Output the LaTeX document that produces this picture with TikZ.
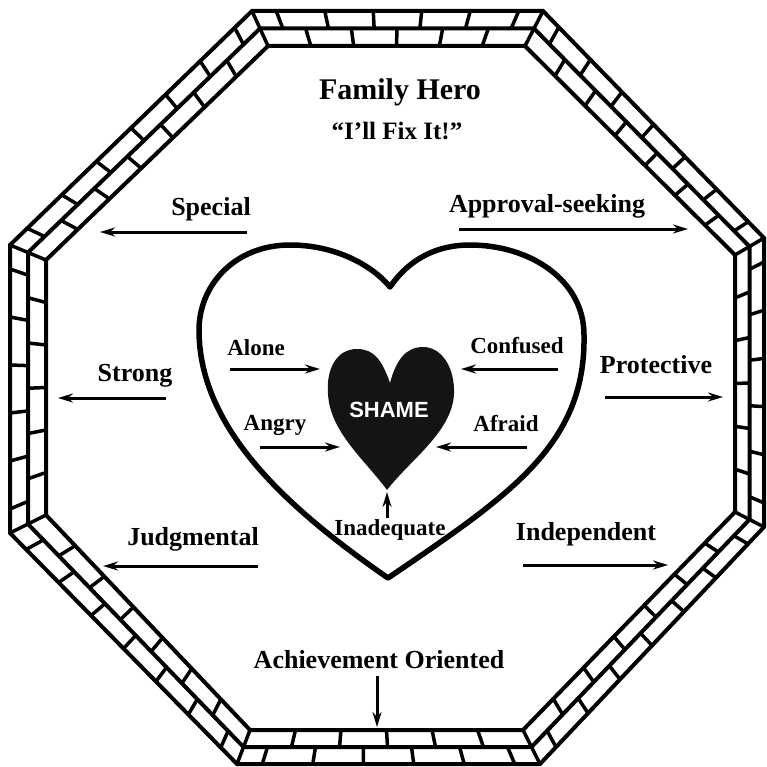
\documentclass[tikz,border=0pt]{standalone}
\usepackage{fontspec}
\setmainfont{Liberation Serif}
\newfontfamily\shamefont{Liberation Sans}
\usetikzlibrary{calc,arrows.meta}

% one side of the brick wall: two rows, joints offset by half a brick
\newcommand{\brickside}[3]{
    \pgfmathtruncatemacro{\nlast}{#3-1}
    \foreach \k in {1,...,#3}
        \draw[mortar] ($(o#1)!{(\k-0.5)/#3}!(o#2)$) -- ($(m#1)!{(\k-0.5)/#3}!(m#2)$);
    \foreach \k in {1,...,\nlast}
        \draw[mortar] ($(m#1)!{\k/#3}!(m#2)$) -- ($(i#1)!{\k/#3}!(i#2)$);
}
\tikzset{
    x=1pt, y=-1pt,
    wall/.style={line width=4pt, line join=miter},
    mortar/.style={line width=3.5pt},
    lbl/.style={anchor=base, inner sep=0pt, font=\bfseries\fontsize{26}{28}\selectfont},
    feel/.style={lbl, font=\bfseries\fontsize{23}{25}\selectfont},
    push/.style={line width=3pt, -{Stealth[length=15pt,width=9pt,inset=5pt]}},
    heartline/.style={line width=5.5pt, line join=round},
}

\begin{document}
\begin{tikzpicture}
    \useasboundingbox (0,0) rectangle (766,767);

    % wall corners: outer, inner, middle
    \coordinate (o1) at (252,11);  \coordinate (i1) at (268,46);
    \coordinate (o2) at (543,11);  \coordinate (i2) at (525,46);
    \coordinate (o3) at (764,238); \coordinate (i3) at (735,255);
    \coordinate (o4) at (764,527); \coordinate (i4) at (735,512);
    \coordinate (o5) at (540,764); \coordinate (i5) at (523,730);
    \coordinate (o6) at (237,764); \coordinate (i6) at (250,730);
    \coordinate (o7) at (10,533);  \coordinate (i7) at (46,515);
    \coordinate (o8) at (10,245);  \coordinate (i8) at (46,260);
    \foreach \c in {1,...,8}
        \coordinate (m\c) at ($(o\c)!0.5!(i\c)$);

    \brickside{1}{2}{6}
    \brickside{2}{3}{7}
    \brickside{3}{4}{6}
    \brickside{4}{5}{7}
    \brickside{5}{6}{6}
    \brickside{6}{7}{7}
    \brickside{7}{8}{6}
    \brickside{8}{1}{7}
    \draw[wall] (o1) -- (o2) -- (o3) -- (o4) -- (o5) -- (o6) -- (o7) -- (o8) -- cycle;
    \draw[wall] (m1) -- (m2) -- (m3) -- (m4) -- (m5) -- (m6) -- (m7) -- (m8) -- cycle;
    \draw[wall] (i1) -- (i2) -- (i3) -- (i4) -- (i5) -- (i6) -- (i7) -- (i8) -- cycle;
    \foreach \c in {1,...,8}
        \draw[mortar] (o\c) -- (i\c);

    % big heart
    \draw[heartline] (390,287) .. controls (372,265) and (335,245) .. (290,245)
        .. controls (235,245) and (199,285) .. (199,330)
        .. controls (199,430) and (290,510) .. (388,578)
        .. controls (510,495) and (586,445) .. (584,335)
        .. controls (584,280) and (530,245) .. (470,245)
        .. controls (430,245) and (405,265) .. (390,287) -- cycle;

    % shame heart
    \fill[black!92] (390,383) .. controls (382,360) and (374,349) .. (357,349)
        .. controls (336,349) and (326,370) .. (328,394)
        .. controls (330,432) and (365,460) .. (387,490)
        .. controls (410,460) and (452,432) .. (454,394)
        .. controls (455,368) and (442,347) .. (423,347)
        .. controls (406,347) and (396,360) .. (390,383) -- cycle;
    \node[anchor=base, inner sep=0pt, text=white, font=\shamefont\bfseries\fontsize{22}{24}\selectfont] (shame) at (389,417) {SHAME};

    % titles
    \node[lbl, font=\bfseries\fontsize{30}{32}\selectfont] (hero) at (400,100) {Family Hero};
    \node[lbl, font=\bfseries\fontsize{25}{27}\selectfont] (fixit) at (397,140) {“I’ll Fix It!”};

    % outside the heart
    \node[lbl] (special) at (211,215) {Special};
    \node[lbl] (approval) at (547,212) {Approval-seeking};
    \node[lbl] (strong) at (135,381) {Strong};
    \node[lbl] (protective) at (656,373) {Protective};
    \node[lbl] (judgmental) at (193,545) {Judgmental};
    \node[lbl] (independent) at (586,540) {Independent};
    \node[lbl] (achievement) at (379,668) {Achievement Oriented};

    % inside the heart
    \node[feel] (alone) at (256,355) {Alone};
    \node[feel] (confused) at (517,353) {Confused};
    \node[feel] (angry) at (275,430) {Angry};
    \node[feel] (afraid) at (506,431) {Afraid};
    \node[feel] (inadequate) at (390,535) {Inadequate};

    % arrows
    \foreach \nm/\xa/\ya/\xb/\yb in {special/247/232/100/232, approval/459/229/688/229,
            strong/166/398/58/398, protective/605/397/723/397,
            judgmental/258/566/103/566, independent/523/565/668/565,
            achievement/377/676/377/727,
            alone/230/369/320/369, confused/558/369/461/369,
            angry/260/447/340/447, afraid/527/447/436/447,
            inadequate/387/518/387/492}{
        \coordinate (\nm-s) at (\xa,\ya);
        \coordinate (\nm-e) at (\xb,\yb);
        \draw[push] (\nm-s) -- (\nm-e);
    }
\end{tikzpicture}
\end{document}
